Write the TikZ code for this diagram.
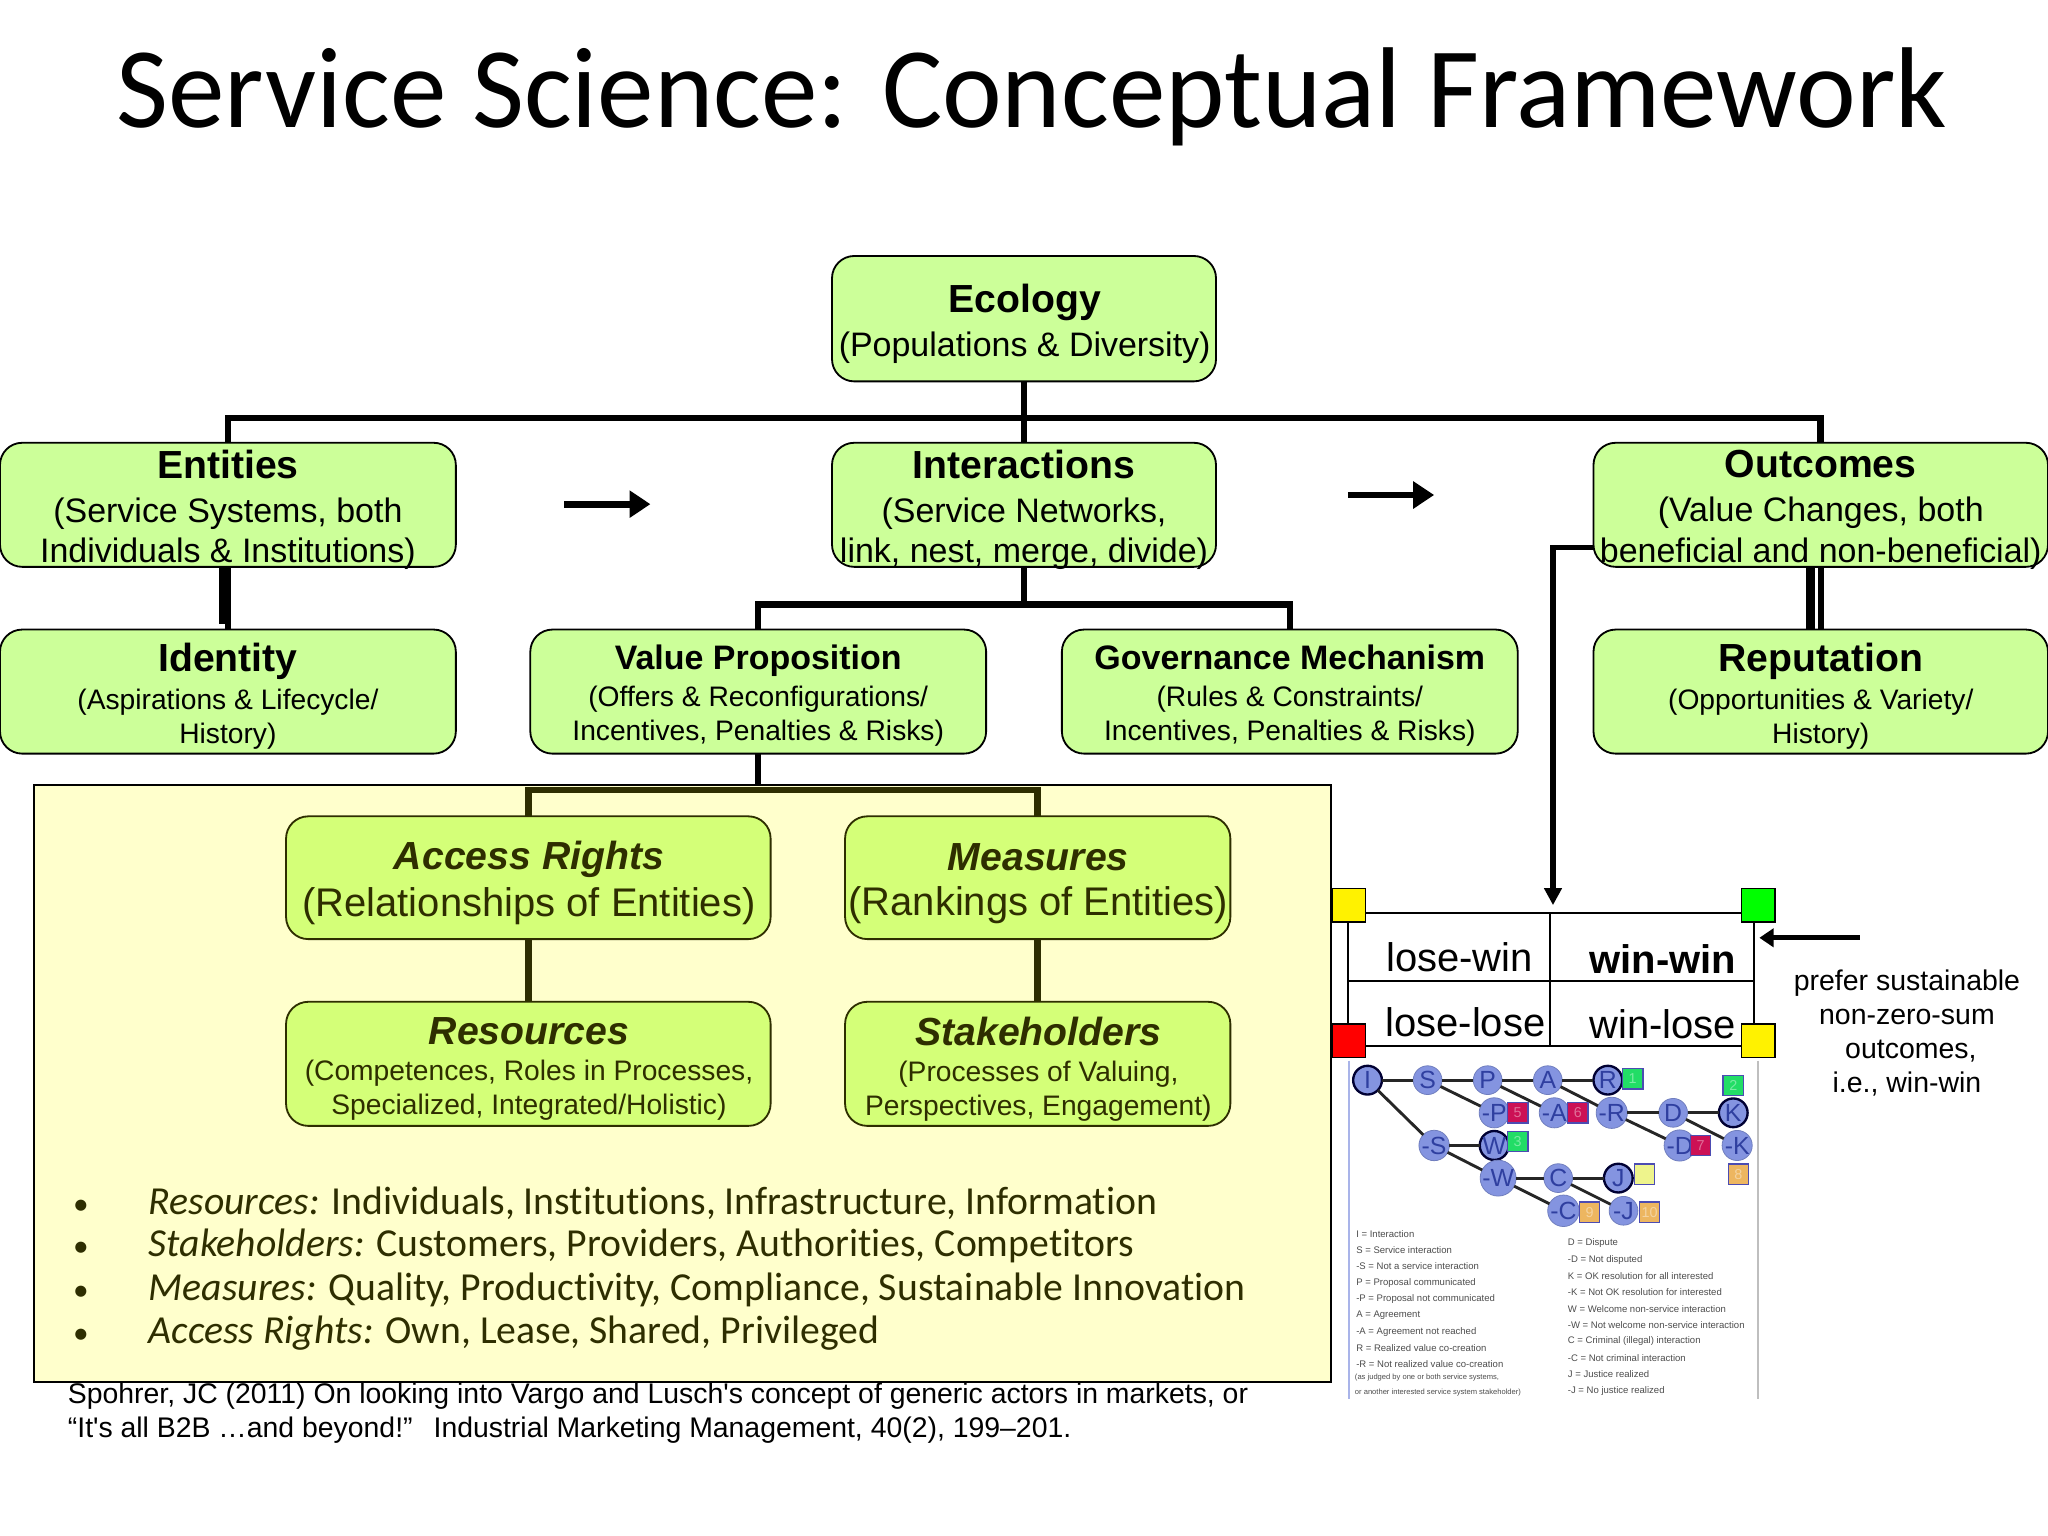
\documentclass[tikz,border=0pt]{standalone}
\usepackage{fontspec}
\setmainfont{Liberation Sans}
\newfontfamily\calfont[Ligatures={NoCommon}]{Carlito}
\usetikzlibrary{arrows.meta,calc}
\definecolor{boxg}{HTML}{CCFF99}
\definecolor{boxi}{HTML}{D4FF78}
\definecolor{pale}{HTML}{FFFFCC}
\definecolor{oli}{HTML}{2E2E00}
\definecolor{netb}{HTML}{8494E0}
\definecolor{nett}{HTML}{2F3FA0}
\definecolor{netg}{HTML}{22DD66}
\definecolor{netr}{HTML}{CC1155}
\definecolor{neto}{HTML}{EDB660}
\definecolor{nety}{HTML}{EEF48C}
\newcommand{\fz}[2]{\fontsize{#1}{#2}\selectfont}
\newcommand{\hb}[1]{{\fz{15}{15}\bfseries #1}}
\newcommand{\hm}[1]{{\fz{13}{13}\bfseries #1}}
\newcommand{\hi}[1]{{\fz{15}{15}\bfseries\itshape #1}}
\newcommand{\fsa}{\fz{13}{13}}
\newcommand{\fsb}{\fz{10.8}{13}}
\newcommand{\bulmark}{\makebox[29pt][l]{\fz{12}{12}•}}
% [style]{name}{x1}{y1}{x2}{y2}{text x}{text y}{text}
\newcommand{\bx}[9][gbox]{%
  \node[#1,minimum width={(#5-#3)*0.5pt},minimum height={(#6-#4)*0.5pt}] (#2) at ({(#3+#5)/2},{(#4+#6)/2}) {};
  \node[txt] (#2-t) at (#7,#8) {#9};}
\tikzset{
  gbox/.style={draw=black,fill=boxg,rounded corners=8.5pt,line width=0.7pt,inner sep=0pt,outer sep=0pt},
  ibox/.style={draw=oli,fill=boxi,rounded corners=8.5pt,line width=0.7pt,inner sep=0pt,outer sep=0pt},
  cell/.style={draw=black,fill=none,line width=0.8pt,inner sep=0pt,outer sep=0pt},
  txt/.style={align=center,inner sep=0pt,outer sep=0pt},
  conn/.style={line width=2.5pt,draw=black},
  connp/.style={line width=2.5pt,draw=oli},
  bigarrow/.style={line width=2.6pt,-{Triangle[length=8pt,width=10pt]}},
  sq/.style={draw=black,line width=0.6pt,minimum size=12.8pt,inner sep=0pt,outer sep=0pt},
  nc/.style={circle,fill=netb,draw=netb!85!black,line width=0.3pt,minimum size=11pt,inner sep=0pt,outer sep=0pt,text=nett,font=\fz{9.5}{9.5}},
  ncd/.style={nc,draw=black!80!blue,line width=0.9pt},
  ns/.style={draw=blue!40!gray,fill=#1,minimum width=7.8pt,minimum height=7.8pt,inner sep=0pt,outer sep=0pt,line width=0.5pt,text=#1!60!white,font=\fz{5.5}{5.5}},
  nl/.style={line width=1.1pt,draw=black!85},
  leg/.style={anchor=west,inner sep=0pt,text=black!70,font=\fz{3.65}{3.65}},
}
\begin{document}
\begin{tikzpicture}[x=0.5pt,y=-0.5pt]
\useasboundingbox (0,0) rectangle (1568,1176);
\fill[white] (0,0) rectangle (1568,1176);
% title
\node[txt,xscale=0.984,transform shape] (title) at (790,74) {\calfont\fz{44}{44}Service Science: Conceptual Framework};
% panel
\node[draw=black,fill=pale,line width=0.7pt,inner sep=0pt,outer sep=0pt,minimum width=496.5pt,minimum height=228.5pt] (panel) at (522.5,829.5) {};
% top boxes
\bx{eco}{637}{196}{931}{292}{784.5}{248}{\hb{Ecology}\\[3pt]\fsa(Populations \& Diversity)}
\bx{ent}{0}{339}{349}{434}{174.5}{390.5}{\hb{Entities}\\[4.7pt]\fsa(Service Systems, both\\[2.5pt]\fsa Individuals \& Institutions)}
\bx{int}{637}{339}{931}{434}{784}{390.5}{\hb{Interactions}\\[4.7pt]\fsa(Service Networks,\\[2.5pt]\fsa link, nest, merge, divide)}
\bx{out}{1220}{339}{1568}{434}{1394}{390.5}{\hb{Outcomes}\\[4.7pt]\fsa(Value Changes, both\\[2.5pt]\fsa beneficial and non-beneficial)}
\bx{ide}{0}{482}{349}{577}{174.5}{533}{\hb{Identity}\\[2.5pt]\fsb(Aspirations \& Lifecycle/\\[1pt]\fsb History)}
\bx{val}{406}{482}{755}{577}{580.5}{532.5}{\hm{Value Proposition}\\[2pt]\fsb(Offers \& Reconfigurations/\\[1pt]\fsb Incentives, Penalties \& Risks)}
\bx{gov}{813}{482}{1162}{577}{987.5}{532.5}{\hm{Governance Mechanism}\\[2pt]\fsb(Rules \& Constraints/\\[1pt]\fsb Incentives, Penalties \& Risks)}
\bx{rep}{1220}{482}{1568}{577}{1394}{533}{\hb{Reputation}\\[2.5pt]\fsb(Opportunities \& Variety/\\[1pt]\fsb History)}
% inner boxes
\bx[ibox]{acc}{219}{625}{590}{719}{405}{676}{\textcolor{oli}{\hi{Access Rights}}\\[3pt]\textcolor{oli}{\fz{15.3}{15}(Relationships of Entities)}}
\bx[ibox]{mea}{647}{625}{942}{719}{795}{676.5}{\textcolor{oli}{\hi{Measures}}\\[5.5pt]\textcolor{oli}{\fz{15.3}{15}(Rankings of Entities)}}
\bx[ibox]{res}{219}{767}{590}{862}{405}{818.5}{\textcolor{oli}{\hi{Resources}}\\[2pt]\textcolor{oli}{\fsb(Competences, Roles in Processes,}\\[1pt]\textcolor{oli}{\fsb Specialized, Integrated/Holistic)}}
\bx[ibox]{sta}{647}{767}{942}{862}{795}{818.5}{\textcolor{oli}{\hi{Stakeholders}}\\[2pt]\textcolor{oli}{\fsb(Processes of Valuing,}\\[1pt]\textcolor{oli}{\fsb Perspectives, Engagement)}}
% connectors
\draw[conn] (eco.south) -- (int.north);
\draw[conn] (eco.south) -- ++(0,28) -| (ent.north);
\draw[conn] (eco.south) -- ++(0,28) -| (out.north);
\draw[conn] (int.south) -- ++(0,29) -| (val.north);
\draw[conn] (int.south) -- ++(0,29) -| (gov.north);
\draw[line width=2.2pt] (ent.south) -- (ide.north);
\draw[line width=3.6pt] ([xshift=-1.7pt]ent.south) -- ([xshift=-1.7pt,yshift=2pt]ide.north);
\draw[line width=2.2pt] (out.south) -- (rep.north);
\draw[line width=3.6pt] ([xshift=-4pt]out.south) -- ([xshift=-4pt]rep.north);
\draw[connp] (val.south) ++(0,28) -| (acc.north);
\draw[connp] (val.south) ++(0,28) -| (mea.north);
\draw[conn] (val.south) -- ([yshift=-12.5pt]val.south);
\draw[connp] (acc.south) -- (res.north);
\draw[connp] (mea.south) -- (sta.north);
% flow arrows
\coordinate (a1s) at (432,386); \coordinate (a1e) at (498,386);
\coordinate (a2s) at (1032,379); \coordinate (a2e) at (1098,379);
\draw[bigarrow] (a1s) -- (a1e);
\draw[bigarrow] (a2s) -- (a2e);
% outcome matrix
\bx[cell]{lw}{1032}{699}{1187}{751}{1117.5}{733}{\fz{15.3}{15.5}lose-win}
\bx[cell]{ww}{1187}{699}{1343}{751}{1273}{734}{\fz{15.3}{15.5}\bfseries win-win}
\bx[cell]{ll}{1032}{751}{1187}{801}{1122}{783}{\fz{15.3}{15.5}lose-lose}
\bx[cell]{wl}{1187}{751}{1343}{801}{1273}{784}{\fz{15.3}{15.5}win-lose}
\node[sq,fill=yellow] (s1) at (1032.5,693) {};
\node[sq,fill=green] (s2) at (1346,693) {};
\node[sq,fill=red] (s3) at (1032.5,797) {};
\node[sq,fill=yellow] (s4) at (1346,797) {};
\coordinate (tip) at (1189,693);
\draw[line width=2pt,-{Triangle[length=6.5pt,width=6.5pt]}] ([yshift=7.5pt]out.south west) -| (tip);
\coordinate (tip2) at (1347,718);\coordinate (tip2s) at (1424,718);
\draw[line width=2pt,-{Triangle[length=5.5pt,width=7pt]}] (tip2s) -- (tip2);
\node[txt] (pref) at (1460,791) {\fz{10.9}{13}prefer sustainable\\[1pt]\fz{10.9}{13}non-zero-sum\\[1pt]\fz{10.9}{13}\hspace*{3pt}outcomes,\\[1pt]\fz{10.9}{13}i.e., win-win};
% network
\draw[draw=netb!70!white,line width=0.8pt] (1033,812) coordinate (nbl1) -- (1033,1071) coordinate (nbl2);
\draw[draw=black!25,line width=0.5pt] (1346,812) coordinate (nbr1) -- (1346,1071) coordinate (nbr2);
\node[ncd] (nI) at (1047,827) {I};
\node[nc] (nS) at (1093,827) {S};
\node[nc] (nP) at (1139,827) {P};
\node[nc] (nA) at (1185,827) {A};
\node[ncd] (nR) at (1231,827) {R};
\node[nc] (nmP) at (1144,852) {-P};
\node[nc] (nmA) at (1190,852) {-A};
\node[nc] (nmR) at (1234,852) {-R};
\node[nc] (nD) at (1281,852) {D};
\node[ncd] (nK) at (1327,852) {K};
\node[nc] (nmS) at (1098,877) {-S};
\node[ncd] (nW) at (1144,877) {W};
\node[nc] (nmD) at (1286,877) {-D};
\node[nc] (nmK) at (1330,877) {-K};
\node[nc] (nmW) at (1147,902) {-W};
\node[nc] (nC) at (1193,902) {C};
\node[ncd] (nJ) at (1239,902) {J};
\node[nc] (nmC) at (1197,927) {-C};
\node[nc] (nmJ) at (1243,927) {-J};
\foreach \a/\b in {nI/nS,nS/nP,nP/nA,nA/nR,nS/nmP,nP/nmA,nA/nmR,nI/nmS,nmR/nD,nD/nK,nmR/nmD,nD/nmK,nmS/nW,nmS/nmW,nmW/nC,nC/nJ,nmW/nmC,nC/nmJ}
  \draw[nl] (\a) -- (\b);
\node[ns=netg] (q1) at (1250,826) {1};
\node[ns=netg] (q2) at (1327,831) {2};
\node[ns=netg] (q3) at (1162,874) {3};
\node[ns=nety] (q4) at (1259,899) {};
\node[ns=netr] (q5) at (1162,852) {5};
\node[ns=netr] (q6) at (1208,852) {6};
\node[ns=netr] (q7) at (1302,877) {7};
\node[ns=neto] (q8) at (1331,899) {8};
\node[ns=neto] (q9) at (1217,928) {9};
\node[ns=neto] (q10) at (1263,928) {10};
% legend
\node[leg] (l1) at (1038,945) {I = Interaction};
\node[leg] (l2) at (1038,957) {S = Service interaction};
\node[leg] (l3) at (1038,969.5) {-S = Not a service interaction};
\node[leg] (l4) at (1038,982) {P = Proposal communicated};
\node[leg] (l5) at (1038,994.5) {-P = Proposal not communicated};
\node[leg] (l6) at (1038,1007) {A = Agreement};
\node[leg] (l7) at (1038,1019.5) {-A = Agreement not reached};
\node[leg] (l8) at (1038,1032) {R = Realized value co-creation};
\node[leg] (l9) at (1038,1044.5) {-R = Not realized value co-creation};
\node[leg,font=\fz{2.9}{2.9}] (l10) at (1037,1055) {(as judged by one or both service systems,};
\node[leg,font=\fz{2.9}{2.9}] (l11) at (1037,1066) {or another interested service system stakeholder)};
\node[leg] (r1) at (1200,952) {D = Dispute};
\node[leg] (r2) at (1200,964.5) {-D = Not disputed};
\node[leg] (r3) at (1200,977) {K = OK resolution for all interested};
\node[leg] (r4) at (1200,989.5) {-K = Not OK resolution for interested};
\node[leg] (r5) at (1200,1002) {W = Welcome non-service interaction};
\node[leg] (r6) at (1200,1014.5) {-W = Not welcome non-service interaction};
\node[leg] (r7) at (1200,1027) {C = Criminal (illegal) interaction};
\node[leg] (r8) at (1200,1039.5) {-C = Not criminal interaction};
\node[leg] (r9) at (1200,1052) {J = Justice realized};
\node[leg] (r10) at (1200,1065) {-J = No justice realized};
% bullets
\node[txt,align=left,anchor=north west,text=oli] (bul) at (56,909) {\calfont\fz{15.2}{16.5}%
\bulmark\textit{Resources:} Individuals, Institutions, Infrastructure, Information\\[2.6pt]
\calfont\fz{15.2}{16.5}\bulmark\textit{Stakeholders:} Customers, Providers, Authorities, Competitors\\[2.6pt]
\calfont\fz{15.2}{16.5}\bulmark\textit{Measures:} Quality, Productivity, Compliance, Sustainable Innovation\\[2.6pt]
\calfont\fz{15.2}{16.5}\bulmark\textit{Access Rights:} Own, Lease, Shared, Privileged};
% citation
\node[txt,align=left,anchor=north west] (cite) at (52,1059) {\fz{10.87}{13}Spohrer, JC (2011) On looking into Vargo and Lusch\textquotesingle s concept of generic actors in markets, or\\[1pt]
\fz{10.87}{13}“It\textquotesingle s all B2B …and beyond!”\ \ \hspace{2pt}Industrial Marketing Management, 40(2), 199–201.};
\end{tikzpicture}
\end{document}
